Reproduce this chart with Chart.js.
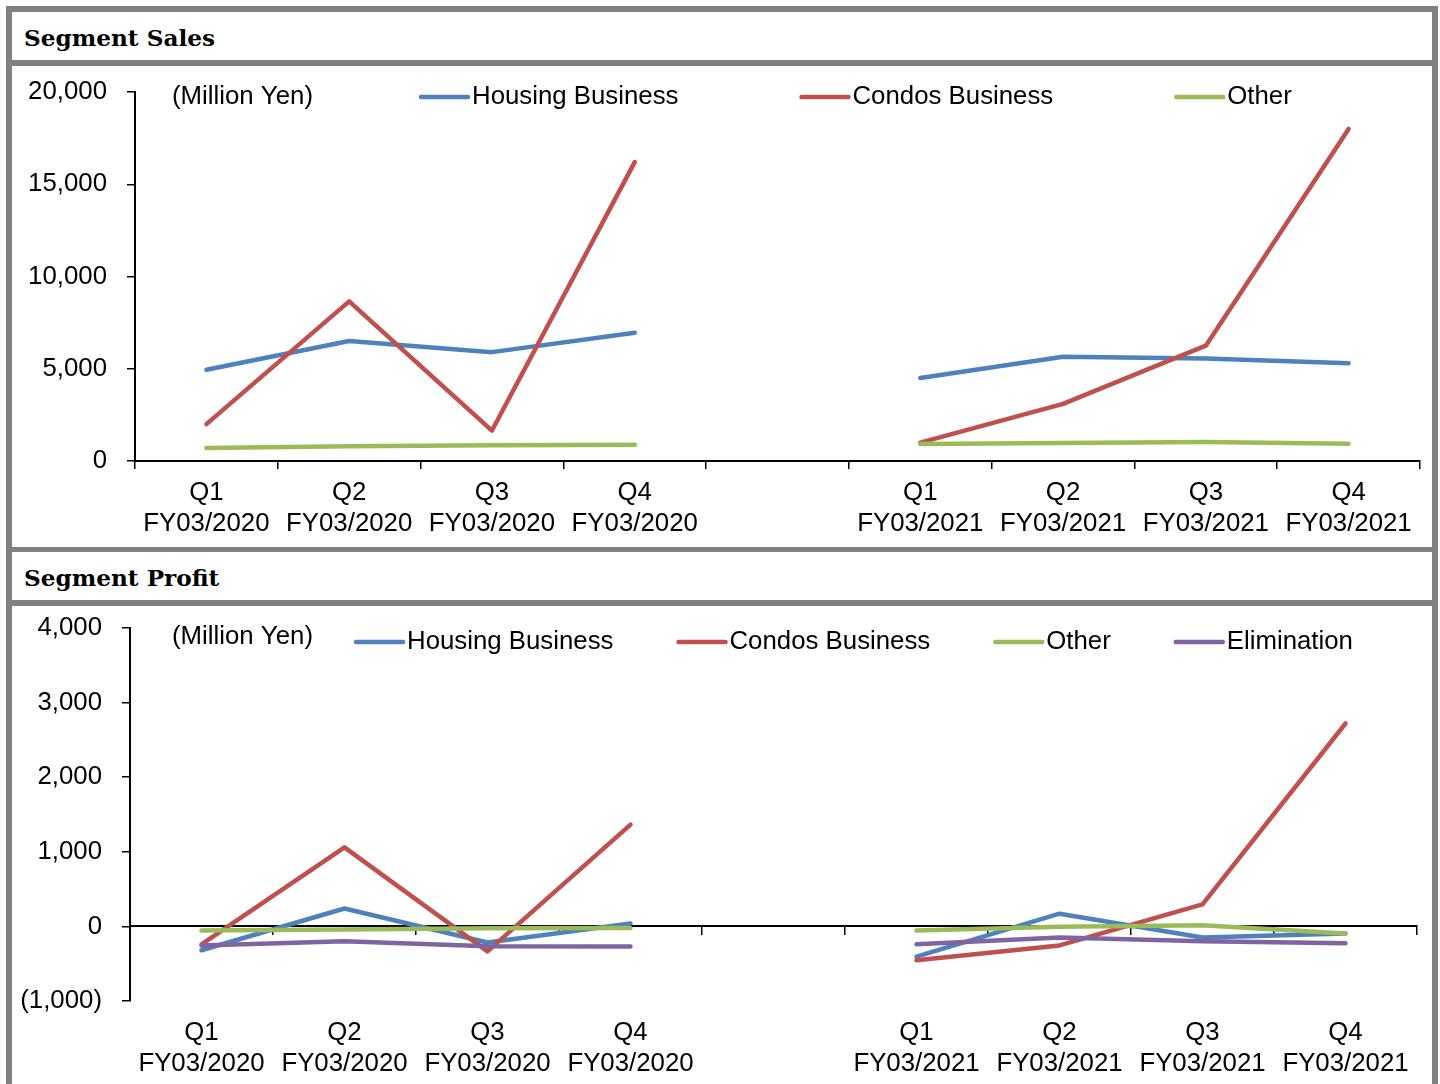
<!DOCTYPE html>
<html>
<head>
<meta charset="utf-8">
<script src="https://cdn.jsdelivr.net/npm/chart.js@4.4.1/dist/chart.umd.min.js"></script>
<style>
  body { margin: 0; background: #fff; }
  #frame { position: absolute; left: 6px; top: 6px; width: 1420px; background: #808080; padding: 6px 6px 0 6px; }
  .title { height: 48px; background: #fff; font-family: "DejaVu Serif", serif; font-weight: bold; font-size: 23.2px; line-height: 52px; padding-left: 12px; box-sizing: border-box; color: #000; }
  .panel { background: #fff; position: relative; }
</style>
</head>
<body>
<div id="frame">
  <div class="title">Segment Sales</div>
  <div class="panel" style="height:481px;margin-top:6px"><canvas id="salesChart"></canvas></div>
  <div class="title" style="margin-top:5px">Segment Profit</div>
  <div class="panel" style="height:478px;margin-top:6px"><canvas id="profitChart"></canvas></div>
</div>
<script>
// categorias (la del medio va vacia)
const trimestres = [
  ["Q1", "FY03/2020"], ["Q2", "FY03/2020"], ["Q3", "FY03/2020"], ["Q4", "FY03/2020"],
  "",
  ["Q1", "FY03/2021"], ["Q2", "FY03/2021"], ["Q3", "FY03/2021"], ["Q4", "FY03/2021"]
];

// Ventas por segmento
const ventasHousing = [4950, 6500, 5900, 6950, null, 4500, 5650, 5550, 5300];
const ventasCondos  = [2000, 8650, 1650, 16200, null, 1000, 3100, 6250, 18000];
const ventasOther   = [700, 800, 860, 880, null, 920, 970, 1030, 930];

// Beneficio por segmento
const profitHousing = [-320, 240, -215, 40, null, -405, 170, -150, -95];
const profitCondos  = [-240, 1060, -335, 1365, null, -455, -255, 295, 2720];
const profitOther   = [-55, -40, -25, -20, null, -55, -5, 15, -95];
const profitElim    = [-255, -200, -265, -270, null, -240, -150, -200, -225];

const ticksVentas = [0, 5000, 10000, 15000, 20000];
const ticksProfit = [-1000, 0, 1000, 2000, 3000, 4000];

const azul = "#4F81BD", rojo = "#C0504D", verde = "#9BBB59", morado = "#8064A2";
const fuente = "'Liberation Sans', Arial, sans-serif";

Chart.defaults.font.family = fuente;
Chart.defaults.font.size = 25.8;
Chart.defaults.color = "#000";

function formato(v) {
  const s = Math.abs(v).toLocaleString("en-US");
  return v < 0 ? "(" + s + ")" : s;
}

// leyenda propia, como en excel
const leyenda = {
  id: "leyenda",
  afterDraw(chart, args, opts) {
    const ctx = chart.ctx;
    ctx.save();
    ctx.font = "25.8px " + fuente;
    ctx.fillStyle = "#000";
    ctx.textBaseline = "middle";
    ctx.textAlign = "left";
    ctx.fillText("(Million Yen)", opts.unitX, opts.unitY);
    let x = opts.x;
    chart.data.datasets.forEach(ds => {
      ctx.strokeStyle = ds.borderColor;
      ctx.lineWidth = 4.5;
      ctx.lineCap = "round";
      ctx.beginPath();
      ctx.moveTo(x, opts.y);
      ctx.lineTo(x + 47, opts.y);
      ctx.stroke();
      x += 51;
      ctx.fillText(ds.label, x, opts.y);
      x += ctx.measureText(ds.label).width + opts.gap;
    });
    ctx.restore();
  }
};

function serie(label, data, color, orden) {
  return { label, data, borderColor: color, backgroundColor: color, borderWidth: 4.5, pointRadius: 0, tension: 0, order: orden, borderCapStyle: "round", borderJoinStyle: "round" };
}

// el eje y no debe empujar el area del grafico
function anchoEje(w) {
  return s => { s.width = w; s.paddingTop = 0; s.paddingBottom = 0; };
}

new Chart(document.getElementById("salesChart"), {
  type: "line",
  data: {
    labels: trimestres,
    datasets: [
      serie("Housing Business", ventasHousing, azul, 2),
      serie("Condos Business", ventasCondos, rojo, 1),
      serie("Other", ventasOther, verde, 0)
    ]
  },
  plugins: [leyenda],
  options: {
    responsive: true,
    maintainAspectRatio: false,
    animation: false,
    layout: { padding: { top: 26, right: 12, left: 0, bottom: 0 } },
    plugins: {
      legend: { display: false },
      tooltip: { enabled: false },
      leyenda: { unitX: 160, unitY: 31, x: 409, y: 31, gap: 123 }
    },
    scales: {
      x: {
        offset: true,
        grid: { offset: true, drawOnChartArea: false, tickLength: 8, color: "#000", lineWidth: 1.5 },
        border: { color: "#000", width: 2 },
        ticks: { padding: 8, maxRotation: 0, autoSkip: false },
        afterFit: s => { s.height = 86; }
      },
      y: {
        min: 0, max: 20000,
        afterBuildTicks: s => { s.ticks = ticksVentas.map(v => ({ value: v })); },
        grid: { drawOnChartArea: false, tickLength: 8, color: "#000", lineWidth: 1.5 },
        border: { color: "#000", width: 2 },
        ticks: { padding: 20, callback: v => formato(v) },
        afterFit: anchoEje(123)
      }
    }
  }
});

new Chart(document.getElementById("profitChart"), {
  type: "line",
  data: {
    labels: trimestres,
    datasets: [
      serie("Housing Business", profitHousing, azul, 3),
      serie("Condos Business", profitCondos, rojo, 2),
      serie("Other", profitOther, verde, 1),
      serie("Elimination", profitElim, morado, 0)
    ]
  },
  plugins: [leyenda],
  options: {
    responsive: true,
    maintainAspectRatio: false,
    animation: false,
    layout: { padding: { top: 22, right: 15, left: 0, bottom: 0 } },
    plugins: {
      legend: { display: false },
      tooltip: { enabled: false },
      leyenda: { unitX: 160, unitY: 31, x: 344, y: 36, gap: 65 }
    },
    scales: {
      x: {
        offset: true,
        grid: { display: false, drawTicks: false },
        border: { display: false },
        ticks: { padding: 16, maxRotation: 0, autoSkip: false },
        afterFit: s => { s.height = 83; }
      },
      // eje en cero con sus marcas
      x2: {
        type: "category",
        labels: trimestres,
        position: { y: 0 },
        offset: true,
        grid: { offset: true, drawOnChartArea: false, tickLength: 8, color: "#000", lineWidth: 1.5 },
        border: { color: "#000", width: 2 },
        ticks: { display: false }
      },
      y: {
        min: -1000, max: 4000,
        afterBuildTicks: s => { s.ticks = ticksProfit.map(v => ({ value: v })); },
        grid: { drawOnChartArea: false, tickLength: 8, color: "#000", lineWidth: 1.5 },
        border: { color: "#000", width: 2 },
        ticks: { padding: 20, callback: v => formato(v) },
        afterFit: anchoEje(118)
      }
    }
  }
});
</script>
</body>
</html>
